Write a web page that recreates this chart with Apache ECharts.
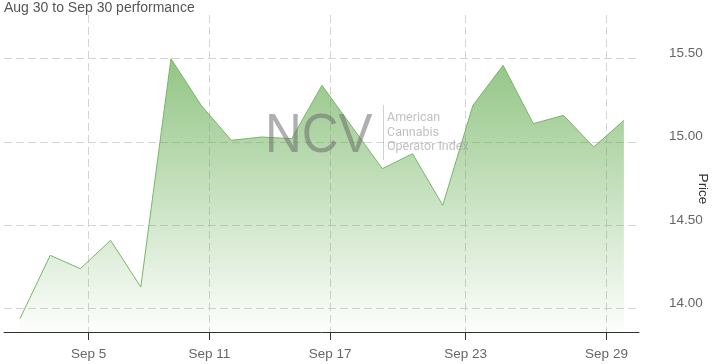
<!DOCTYPE html>
<html><head><meta charset="utf-8">
<script src="https://cdn.jsdelivr.net/npm/echarts@6/dist/echarts.min.js"></script>
<style>html,body{margin:0;padding:0;background:#fff}#c{width:715px;height:364px}</style>
</head><body><div id="c"></div>
<script>
const titleText = 'Aug 30 to Sep 30 performance';
const yAxisName = 'Price';
const tradeDates = ['2019-08-30','2019-09-03','2019-09-04','2019-09-05','2019-09-06','2019-09-09','2019-09-10','2019-09-11','2019-09-12','2019-09-13','2019-09-16','2019-09-17','2019-09-18','2019-09-19','2019-09-20','2019-09-23','2019-09-24','2019-09-25','2019-09-26','2019-09-27','2019-09-30'];
const prices = [13.94, 14.32, 14.24, 14.41, 14.13, 15.50, 15.22, 15.01, 15.03, 15.02, 15.34, 15.09, 14.84, 14.93, 14.62, 15.22, 15.46, 15.11, 15.16, 14.97, 15.13];
const tickDates = ['2019-09-05','2019-09-11','2019-09-17','2019-09-23','2019-09-29'];
const tickLabels = ['Sep 5','Sep 11','Sep 17','Sep 23','Sep 29'];
const priceTicks = [14, 14.5, 15, 15.5];
const closeHour = 17.5;

function ts(d, h) { return Date.UTC(+d.slice(0,4), +d.slice(5,7)-1, +d.slice(8,10)) + h*3600e3; }
const pts = tradeDates.map(d => ts(d, closeHour));
function ordinal(t){
  for (let i=0;i<pts.length-1;i++){ if (t>=pts[i] && t<=pts[i+1]) return i+(t-pts[i])/(pts[i+1]-pts[i]); }
  return t<pts[0]?0:pts.length-1;
}
const tickPos = tickDates.map(d => ordinal(ts(d,0)));
function labelFor(v){
  let best=0, bd=1e9;
  tickPos.forEach((p,i)=>{const d=Math.abs(p-v); if(d<bd){bd=d;best=i;}});
  return tickLabels[best];
}

const chart = echarts.init(document.getElementById('c'), null, {renderer:'canvas'});
const gridDash = {color:'#d4d4d4', width:1, type:[8,4]};
chart.setOption({
  animation:false,
  backgroundColor:'#fff',
  textStyle:{fontFamily:'"Liberation Sans", Arial, sans-serif'},
  title:{text:titleText, left:4, top:1, padding:0,
    textStyle:{fontSize:14, fontWeight:'normal', color:'#555', fontFamily:'"Liberation Sans", Arial, sans-serif'}},
  grid:{left:4, right:76, top:15, bottom:32, outerBoundsMode:'none'},
  xAxis:{type:'value', min:-0.53, max:20.5,
    axisLine:{show:true, lineStyle:{color:'#333', width:1}},
    axisTick:{show:true, length:8, customValues:tickPos, lineStyle:{color:'#333'}},
    splitLine:{show:true, lineStyle:gridDash},
    axisLabel:{customValues:tickPos, formatter:labelFor, margin:15, fontSize:13.5, color:'#666'}
  },
  yAxis:{type:'value', position:'right', min:13.86, max:15.762,
    axisLine:{show:false},
    axisTick:{show:false, customValues:priceTicks},
    splitLine:{show:true, lineStyle:gridDash},
    axisLabel:{customValues:priceTicks, formatter:v=>v.toFixed(2), margin:30, fontSize:13.5, color:'#666', verticalAlign:'bottom', lineHeight:11}
  },
  graphic:[
    {type:'text', x:703, y:189, rotation:-Math.PI/2, z:100, silent:true,
      style:{text:yAxisName, font:'13.5px "Liberation Sans", Arial, sans-serif', fill:'#333', align:'center', verticalAlign:'middle'}},
    {type:'text', left:265, top:109, z:100, silent:true, scaleX:0.91,
      style:{text:'NCV', font:'56px "Liberation Sans", Arial, sans-serif', fill:'rgba(110,110,110,0.55)'}},
    {type:'line', z:100, silent:true, shape:{x1:383.5,y1:105,x2:383.5,y2:160}, style:{stroke:'rgba(150,150,150,0.45)', lineWidth:1}},
    {type:'text', left:387, top:111, z:100, silent:true,
      style:{text:'American\nCannabis\nOperator Index', font:'12.5px Roboto, "Liberation Sans", sans-serif', lineHeight:14.5, fill:'rgba(150,150,150,0.6)'}}
  ],
  series:[{
    type:'line', data:prices.map((p,i)=>[i,p]), showSymbol:false, symbol:'none',
    lineStyle:{color:'#7ab56a', width:1},
    areaStyle:{origin:'start', color:new echarts.graphic.LinearGradient(0,0,0,1,[
      {offset:0, color:'rgba(100,172,80,1)'},
      {offset:1, color:'rgba(100,172,80,0.02)'}
    ])}
  }]
});
</script></body></html>
